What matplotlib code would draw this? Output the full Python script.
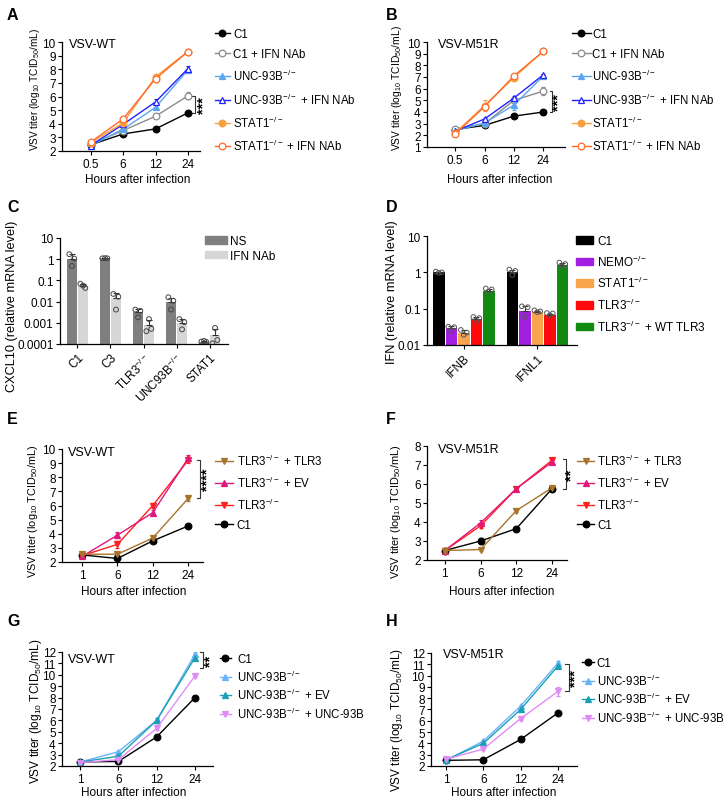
import numpy as np
import matplotlib
matplotlib.use('Agg')
import matplotlib.pyplot as plt
from matplotlib.lines import Line2D
from matplotlib.patches import Patch

plt.rcParams['font.family'] = ['Liberation Sans', 'DejaVu Sans']
plt.rcParams['mathtext.fontset'] = 'custom'
plt.rcParams['mathtext.rm'] = 'Liberation Sans'
plt.rcParams['mathtext.it'] = 'Liberation Sans:italic'
plt.rcParams['mathtext.bf'] = 'Liberation Sans:bold'
plt.rcParams['font.size'] = 8.5
plt.rcParams['axes.linewidth'] = 0.9
plt.rcParams['xtick.major.size'] = 3
plt.rcParams['ytick.major.size'] = 3
plt.rcParams['xtick.major.width'] = 0.8
plt.rcParams['ytick.major.width'] = 0.8
plt.rcParams['xtick.major.pad'] = 2
plt.rcParams['ytick.major.pad'] = 1.5

FS = 8.3

# ---------------- data ----------------
hours_ab = ['0.5', '6', '12', '24']
hours_eh = ['1', '6', '12', '24']

# A  VSV-WT
a_c1 = [2.45, 3.25, 3.62, 4.8]
a_c1_nab = [2.5, 3.5, 4.55, 6.05]
a_unc = [2.4, 3.6, 5.2, 7.95]
a_unc_nab = [2.4, 3.95, 5.6, 8.05]
a_stat1 = [2.6, 4.05, 7.45, 9.3]
a_stat1_nab = [2.65, 4.35, 7.3, 9.3]
a_c1_err = [0.05, 0.05, 0.05, 0.08]
a_c1_nab_err = [0.05, 0.1, 0.1, 0.25]
a_unc_err = [0.05, 0.1, 0.15, 0.1]
a_unc_nab_err = [0.05, 0.1, 0.2, 0.2]
a_stat1_err = [0.1, 0.1, 0.15, 0.1]
a_stat1_nab_err = [0.1, 0.1, 0.2, 0.1]

# B  VSV-M51R
b_c1 = [2.5, 2.85, 3.65, 4.0]
b_c1_nab = [2.55, 3.0, 5.0, 5.8]
b_unc = [2.4, 3.05, 4.6, 7.1]
b_unc_nab = [2.35, 3.4, 5.2, 7.2]
b_stat1 = [2.2, 4.55, 6.95, 9.25]
b_stat1_nab = [2.1, 4.45, 7.1, 9.2]
b_c1_err = [0.05, 0.08, 0.08, 0.12]
b_c1_nab_err = [0.1, 0.1, 0.2, 0.35]
b_unc_err = [0.05, 0.1, 0.4, 0.1]
b_unc_nab_err = [0.05, 0.1, 0.2, 0.1]
b_stat1_err = [0.1, 0.5, 0.15, 0.15]
b_stat1_nab_err = [0.1, 0.2, 0.2, 0.1]

# C  CXCL10
c_groups = ['C1', 'C3', 'TLR3$^{-/-}$', 'UNC93B$^{-/-}$', 'STAT1']
c_ns = [1.07, 1.1, 0.0031, 0.0095, 0.00013]
c_nab = [0.055, 0.015, 0.0008, 0.001, 0.00027]
c_ns_pts = [[1.72, 1.07, 0.48], [1.1, 1.1, 1.12], [0.0042, 0.0037, 0.0018],
            [0.016, 0.011, 0.0042], [0.00013, 0.000125, 0.00014]]
c_nab_pts = [[0.07, 0.044, 0.057], [0.023, 0.017, 0.0042], [0.0004, 0.00052, 0.0015],
             [0.0015, 0.00107, 0.00049], [0.000107, 0.000154, 0.00057]]

# D  IFN
d_genes = ['IFNB', 'IFNL1']
d_cells = ['C1', 'NEMO$^{-/-}$', 'STAT1$^{-/-}$', 'TLR3$^{-/-}$', 'TLR3$^{-/-}$ + WT TLR3']
d_c1 = [1.0, 1.0]
d_nemo = [0.029, 0.086]
d_stat1 = [0.022, 0.082]
d_tlr3 = [0.053, 0.066]
d_wt = [0.31, 1.6]
d_c1_pts = [[1.05, 0.97, 1.0], [1.2, 0.84, 1.1]]
d_nemo_pts = [[0.032, 0.024, 0.031], [0.116, 0.059, 0.11]]
d_stat1_pts = [[0.026, 0.019, 0.022], [0.09, 0.08, 0.084]]
d_tlr3_pts = [[0.059, 0.047, 0.055], [0.076, 0.066, 0.074]]
d_wt_pts = [[0.36, 0.29, 0.34], [1.86, 1.44, 1.7]]

# E  VSV-WT, TLR3
e_tlr3_tlr3 = [2.55, 2.55, 3.7, 6.5]
e_tlr3_ev = [2.4, 3.9, 5.5, 9.35]
e_tlr3 = [2.45, 3.25, 6.0, 9.2]
e_c1 = [2.5, 2.25, 3.5, 4.55]
e_tlr3_tlr3_err = [0.05, 0.1, 0.1, 0.2]
e_tlr3_ev_err = [0.05, 0.2, 0.15, 0.2]
e_tlr3_err = [0.05, 0.25, 0.15, 0.2]
e_c1_err = [0.05, 0.1, 0.08, 0.1]

# F  VSV-M51R, TLR3
f_tlr3_tlr3 = [2.5, 2.55, 4.6, 5.8]
f_tlr3_ev = [2.5, 3.95, 5.75, 7.15]
f_tlr3 = [2.5, 3.8, 5.75, 7.25]
f_c1 = [2.5, 3.0, 3.65, 5.75]
f_tlr3_tlr3_err = [0.05, 0.1, 0.08, 0.1]
f_tlr3_ev_err = [0.05, 0.15, 0.1, 0.1]
f_tlr3_err = [0.05, 0.1, 0.1, 0.1]
f_c1_err = [0.05, 0.15, 0.05, 0.1]

# G  VSV-WT, UNC-93B
g_c1 = [2.35, 2.4, 4.55, 8.0]
g_unc = [2.35, 3.25, 6.0, 11.8]
g_unc_ev = [2.35, 2.85, 6.0, 11.5]
g_unc_unc = [2.3, 2.55, 5.3, 9.9]
g_c1_err = [0.05, 0.05, 0.1, 0.15]
g_unc_err = [0.05, 0.1, 0.2, 0.2]
g_unc_ev_err = [0.05, 0.1, 0.25, 0.2]
g_unc_unc_err = [0.05, 0.1, 0.15, 0.1]

# H  VSV-M51R, UNC-93B
h_c1 = [2.5, 2.55, 4.35, 6.7]
h_unc = [2.5, 4.2, 7.3, 11.1]
h_unc_ev = [2.55, 4.0, 7.0, 10.85]
h_unc_unc = [2.6, 3.5, 6.2, 8.6]
h_c1_err = [0.05, 0.05, 0.05, 0.05]
h_unc_err = [0.05, 0.1, 0.1, 0.15]
h_unc_ev_err = [0.05, 0.1, 0.1, 0.15]
h_unc_unc_err = [0.05, 0.1, 0.1, 0.4]

# significance brackets: top, bottom, stars
sig_a = [6.05, 4.8, '***']
sig_b = [5.8, 4.0, '***']
sig_e = [9.2, 6.55, '****']
sig_f = [7.3, 5.75, '**']
sig_g = [12.0, 10.6, '**']
sig_h = [11.0, 8.65, '***']

# ---------------- figure ----------------
W, H = 728, 804
fig = plt.figure(figsize=(W / 100, H / 100), dpi=100)


def add_ax(l, r, t, b):
    return fig.add_axes([l / W, 1 - b / H, (r - l) / W, (b - t) / H])


def ftext(x, y, s, **kw):
    fig.text(x / W, 1 - y / H, s, **kw)


def clean(ax):
    ax.spines['top'].set_visible(False)
    ax.spines['right'].set_visible(False)
    ax.minorticks_off()


def line_panel(ax, series, xlabels, ylim, yticks, xlim):
    x = np.arange(len(xlabels))
    for vals, err, col, mk, filled in series:
        ax.errorbar(x, vals, yerr=err, color=col, marker=mk, ms=4.8, lw=1,
                    mfc=col if filled else 'white', mec=col, mew=0.9,
                    elinewidth=0.8, capsize=1.5, capthick=0.8)
    ax.set_xticks(x)
    ax.set_xticklabels(xlabels)
    ax.set_xlim(*xlim)
    ax.set_ylim(*ylim)
    ax.set_yticks(yticks)
    clean(ax)


def bracket(ax, sig, xv, xs):
    top, bot, stars = sig
    ax.plot([xv - 0.09, xv, xv, xv - 0.09], [top, top, bot, bot], color='#333333',
            lw=0.8, clip_on=False)
    ax.text(xs, (top + bot) / 2, stars, rotation=90, ha='center', va='center',
            fontsize=10.5, fontweight='bold', clip_on=False)


def legend(series, labels, x, y, hl, pad, sp):
    handles = []
    for vals, err, col, mk, filled in series:
        handles.append(Line2D([], [], color=col, marker=mk, ms=4.8, lw=1,
                              mfc=col if filled else 'white', mec=col, mew=0.9))
    fig.legend(handles, labels, loc='upper left', bbox_to_anchor=(x / W, 1 - y / H),
               frameon=False, fontsize=FS, handlelength=hl, handletextpad=pad,
               labelspacing=sp, borderpad=0, borderaxespad=0, numpoints=1)


ylab_vsv = r'VSV titer (log$_{10}$ TCID$_{50}$/mL)'
lbl_kw = dict(fontsize=11.5, fontweight='bold', ha='left', va='center')
xlab = 'Hours after infection'

# colours
c_black = '#000000'
c_gray = '#8c8c8c'
c_lblue = '#5aa5f0'
c_blue = '#2222ff'
c_orange = '#f7a040'
c_orred = '#ff6a2a'

# ---- A ----
ax = add_ax(62, 200, 43, 152)
ser_a = [(a_c1, a_c1_err, c_black, 'o', True),
         (a_c1_nab, a_c1_nab_err, c_gray, 'o', False),
         (a_unc, a_unc_err, c_lblue, '^', True),
         (a_unc_nab, a_unc_nab_err, c_blue, '^', False),
         (a_stat1, a_stat1_err, c_orange, 'o', True),
         (a_stat1_nab, a_stat1_nab_err, c_orred, 'o', False)]
line_panel(ax, ser_a, hours_ab, (2, 10), range(2, 11), (-0.88, 3.37))
bracket(ax, sig_a, 3.21, 3.47)
ax.text(0.05, 0.985, 'VSV-WT', transform=ax.transAxes, ha='left', va='center', fontsize=9)
labs_ab = ['C1', 'C1 + IFN NAb', 'UNC-93B$^{-/-}$', 'UNC-93B$^{-/-}$ + IFN NAb',
           'STAT1$^{-/-}$', 'STAT1$^{-/-}$ + IFN NAb']
legend(ser_a, labs_ab, 215, 29, 1.3, 0.27, 0.7)
ftext(35, 90, ylab_vsv, rotation=90, ha='center', va='center', fontsize=7.2)
ftext(138, 180, xlab, ha='center', va='center')
ftext(7, 15, 'A', **lbl_kw)

# ---- B ----
ax = add_ax(427, 565, 43, 148)
ser_b = [(b_c1, b_c1_err, c_black, 'o', True),
         (b_c1_nab, b_c1_nab_err, c_gray, 'o', False),
         (b_unc, b_unc_err, c_lblue, '^', True),
         (b_unc_nab, b_unc_nab_err, c_blue, '^', False),
         (b_stat1, b_stat1_err, c_orange, 'o', True),
         (b_stat1_nab, b_stat1_nab_err, c_orred, 'o', False)]
line_panel(ax, ser_b, hours_ab, (1, 10), range(1, 11), (-0.95, 3.73))
bracket(ax, sig_b, 3.3, 3.5)
ax.text(0.08, 0.985, 'VSV-M51R', transform=ax.transAxes, ha='left', va='center', fontsize=9)
legend(ser_b, labs_ab, 572, 29, 1.62, 0.13, 0.7)
ftext(397, 88, ylab_vsv, rotation=90, ha='center', va='center', fontsize=7.4)
ftext(500, 180, xlab, ha='center', va='center')
ftext(386, 15, 'B', **lbl_kw)

# ---- C ----
ax = add_ax(60, 228, 239, 345)
ax.set_yscale('log')
xc = np.arange(len(c_groups))
bw = 0.3
off = 0.167
jit = [-0.08, 0.07, 0.0]
for vals, pts, col, dx in [(c_ns, c_ns_pts, '#7f7f7f', -off), (c_nab, c_nab_pts, '#d6d6d6', off)]:
    sd = [np.std(p, ddof=1) for p in pts]
    ax.bar(xc + dx, vals, width=bw, color=col, zorder=1)
    ax.errorbar(xc + dx, vals, yerr=[np.zeros(len(vals)), sd], fmt='none',
                ecolor='#333333', elinewidth=0.8, capsize=2, capthick=0.8, zorder=2)
    for i, p in enumerate(pts):
        ax.scatter(xc[i] + dx + np.array(jit), p, s=12, facecolors='none',
                   edgecolors='#444444', linewidths=0.7, zorder=3)
ax.set_ylim(1e-4, 10)
ax.set_yticks([1e-4, 1e-3, 1e-2, 1e-1, 1, 10])
ax.set_yticklabels(['0.0001', '0.001', '0.01', '0.1', '1', '10'])
ax.set_xlim(-0.53, 4.56)
ax.set_xticks(xc)
ax.set_xticklabels(c_groups, rotation=45, ha='right', rotation_mode='anchor')
clean(ax)
fig.legend([Patch(color='#7f7f7f'), Patch(color='#d6d6d6')], ['NS', 'IFN NAb'],
           loc='upper left', bbox_to_anchor=(205 / W, 1 - 236 / H), frameon=False,
           fontsize=8.5, handlelength=1.85, handleheight=0.62, handletextpad=0.26,
           labelspacing=0.22, borderpad=0, borderaxespad=0)
ftext(12, 306, 'CXCL10 (relative mRNA level)', rotation=90, ha='center', va='center',
      fontsize=9.2)
ftext(7, 207, 'C', **lbl_kw)

# ---- D ----
ax = add_ax(427, 577, 237, 346)
ax.set_yscale('log')
xd = np.arange(len(d_genes))
d_cols = ['#000000', '#a21ee0', '#f9a54f', '#ff0a0a', '#128a12']
d_all = [d_c1, d_nemo, d_stat1, d_tlr3, d_wt]
d_all_pts = [d_c1_pts, d_nemo_pts, d_stat1_pts, d_tlr3_pts, d_wt_pts]
dbw = 0.156
dstep = 0.17
for k, (vals, pts, col) in enumerate(zip(d_all, d_all_pts, d_cols)):
    dx = (k - 2) * dstep
    sd = [np.std(p, ddof=1) for p in pts]
    ax.bar(xd + dx, vals, width=dbw, color=col, zorder=1)
    ax.errorbar(xd + dx, vals, yerr=[np.zeros(len(vals)), sd], fmt='none',
                ecolor='#333333', elinewidth=0.8, capsize=2, capthick=0.8, zorder=2)
    for i, p in enumerate(pts):
        ax.scatter(xd[i] + dx + np.array([-0.04, 0.0, 0.04]), p, s=11, facecolors='none',
                   edgecolors='#555555', linewidths=0.7, zorder=3)
ax.set_ylim(0.01, 10)
ax.set_yticks([0.01, 0.1, 1, 10])
ax.set_yticklabels(['0.01', '0.1', '1', '10'])
ax.set_xlim(-0.5, 1.54)
ax.set_xticks(xd)
ax.set_xticklabels(d_genes, rotation=45, ha='right', rotation_mode='anchor')
clean(ax)
fig.legend([Patch(color=c) for c in d_cols], d_cells,
           loc='upper left', bbox_to_anchor=(576 / W, 1 - 236 / H), frameon=False,
           fontsize=8.5, handlelength=1.4, handleheight=0.62, handletextpad=0.4,
           labelspacing=0.55, borderpad=0, borderaxespad=0)
ftext(392, 292, 'IFN (relative mRNA level)', rotation=90, ha='center', va='center',
      fontsize=9.2)
ftext(386, 207, 'D', **lbl_kw)

# ---- E ----
c_brown = '#a8742c'
c_mag = '#e0187c'
c_red = '#ff2020'
ax = add_ax(62, 203, 450, 563)
ser_e = [(e_tlr3_tlr3, e_tlr3_tlr3_err, c_brown, 'v', True),
         (e_tlr3_ev, e_tlr3_ev_err, c_mag, '^', True),
         (e_tlr3, e_tlr3_err, c_red, 'v', True),
         (e_c1, e_c1_err, c_black, 'o', True)]
line_panel(ax, ser_e[::-1], hours_eh, (2, 10), range(2, 11), (-0.57, 3.42))
bracket(ax, sig_e, 3.34, 3.56)
ax.text(0.04, 0.975, 'VSV-WT', transform=ax.transAxes, ha='left', va='center', fontsize=9)
labs_ef = ['TLR3$^{-/-}$ + TLR3', 'TLR3$^{-/-}$ + EV', 'TLR3$^{-/-}$', 'C1']
legend(ser_e, labs_ef, 215, 454, 1.58, 0.3, 0.6)
ftext(33, 511, ylab_vsv, rotation=90, ha='center', va='center', fontsize=7.8)
ftext(134, 592, xlab, ha='center', va='center')
ftext(7, 420, 'E', **lbl_kw)

# ---- F ----
ax = add_ax(427, 567, 447, 561)
ser_f = [(f_tlr3_tlr3, f_tlr3_tlr3_err, c_brown, 'v', True),
         (f_tlr3_ev, f_tlr3_ev_err, c_mag, '^', True),
         (f_tlr3, f_tlr3_err, c_red, 'v', True),
         (f_c1, f_c1_err, c_black, 'o', True)]
line_panel(ax, ser_f[::-1], hours_eh, (2, 8), range(2, 9), (-0.5, 3.42))
bracket(ax, sig_f, 3.39, 3.55)
ax.text(0.08, 0.975, 'VSV-M51R', transform=ax.transAxes, ha='left', va='center', fontsize=9)
legend(ser_f, labs_ef, 577, 454, 1.48, 0.26, 0.6)
ftext(396, 512, ylab_vsv, rotation=90, ha='center', va='center', fontsize=7.9)
ftext(502, 592, xlab, ha='center', va='center')
ftext(386, 420, 'F', **lbl_kw)

# ---- G ----
c_ublue = '#6ab4f8'
c_teal = '#1aa0b4'
c_viol = '#e08cf5'
ax = add_ax(62, 213, 653, 767)
ser_g = [(g_c1, g_c1_err, c_black, 'o', True),
         (g_unc, g_unc_err, c_ublue, '^', True),
         (g_unc_ev, g_unc_ev_err, c_teal, '^', True),
         (g_unc_unc, g_unc_unc_err, c_viol, 'v', True)]
line_panel(ax, ser_g, hours_eh, (2, 12), range(2, 13), (-0.47, 3.47))
bracket(ax, sig_g, 3.21, 3.4)
ax.text(0.04, 0.94, 'VSV-WT', transform=ax.transAxes, ha='left', va='center', fontsize=9)
labs_gh = ['C1', 'UNC-93B$^{-/-}$', 'UNC-93B$^{-/-}$ + EV', 'UNC-93B$^{-/-}$ + UNC-93B']
legend(ser_g, labs_gh, 220, 654, 0.92, 0.58, 0.3)
ftext(36, 711, ylab_vsv, rotation=90, ha='center', va='center', fontsize=8.6)
ftext(134, 793, xlab, ha='center', va='center')
ftext(7, 622, 'G', **lbl_kw)

# ---- H ----
ax = add_ax(431, 577, 654, 767)
ser_h = [(h_c1, h_c1_err, c_black, 'o', True),
         (h_unc, h_unc_err, c_ublue, '^', True),
         (h_unc_ev, h_unc_ev_err, c_teal, '^', True),
         (h_unc_unc, h_unc_unc_err, c_viol, 'v', True)]
line_panel(ax, ser_h, hours_eh, (2, 12), range(2, 13), (-0.4, 3.51))
bracket(ax, sig_h, 3.29, 3.46)
ax.text(0.08, 0.99, 'VSV-M51R', transform=ax.transAxes, ha='left', va='center', fontsize=9)
legend(ser_h, labs_gh, 582, 658, 1.02, 0.26, 0.3)
ftext(397, 720, ylab_vsv, rotation=90, ha='center', va='center', fontsize=8.5)
ftext(504, 793, xlab, ha='center', va='center')
ftext(386, 622, 'H', **lbl_kw)

fig.savefig('out.png', dpi=100)
